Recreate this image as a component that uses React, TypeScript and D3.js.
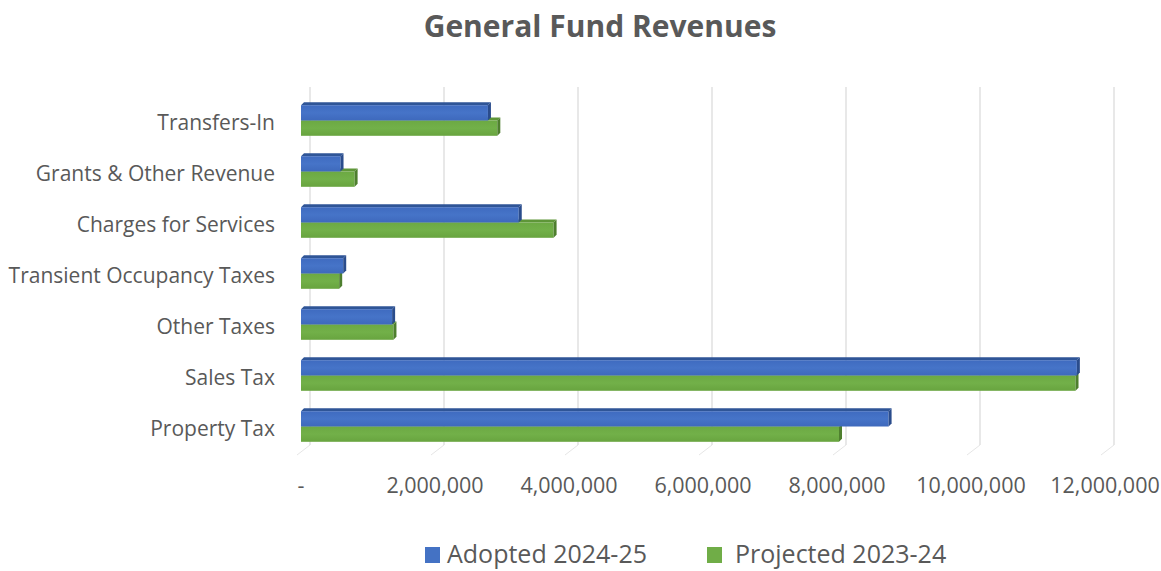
import React from "react";
import * as d3 from "d3";

const categories = [
  "Transfers-In",
  "Grants & Other Revenue",
  "Charges for Services",
  "Transient Occupancy Taxes",
  "Other Taxes",
  "Sales Tax",
  "Property Tax",
];
const adopted2425 = [2790000, 590000, 3250000, 630000, 1360000, 11580000, 8770000];
const projected2324 = [2930000, 800000, 3770000, 570000, 1380000, 11560000, 8030000];
const xTicks = [0, 2000000, 4000000, 6000000, 8000000, 10000000, 12000000];
const seriesNames = ["Adopted 2024-25", "Projected 2023-24"];

const W = 1161;
const H = 571;
const FONT = "'Open Sans', 'Noto Sans', sans-serif";
const TEXT = "#595959";

export default function App() {
  const x = d3.scaleLinear().domain([0, 12000000]).range([301, 1105]);
  const y = d3.scaleBand<string>().domain(categories).range([95, 452]).paddingInner(0.4).paddingOuter(0.2);
  const depth = 9; // back wall offset
  const d = 3; // bar depth
  const fmt = (v: number) => (v === 0 ? "-" : d3.format(",")(v));
  const bw = y.bandwidth();
  const barH = bw / 2;

  const bar = (v: number, top: number, front: string, topC: string, side: string, key: string) => {
    const x0 = x(0);
    const x1 = x(v);
    return (
      <g key={key}>
        <polygon
          points={`${x0},${top} ${x0 + d},${top - d} ${x1 + d},${top - d} ${x1},${top}`}
          fill={topC}
        />
        <rect x={x0} y={top} width={x1 - x0} height={barH} fill={front} />
        <polygon
          points={`${x1},${top} ${x1 + d},${top - d} ${x1 + d},${top + barH - d} ${x1},${top + barH}`}
          fill={side}
        />
      </g>
    );
  };

  return (
    <svg width={W} height={H} style={{ position: "absolute", left: 0, top: 0, background: "#fff" }}>
      <defs>
        <linearGradient id="gb" x1="0" y1="0" x2="0" y2="1">
          <stop offset="0" stopColor="#3F6BC0" />
          <stop offset="0.5" stopColor="#4674C8" />
          <stop offset="1" stopColor="#3E69BC" />
        </linearGradient>
        <linearGradient id="gg" x1="0" y1="0" x2="0" y2="1">
          <stop offset="0" stopColor="#6CA943" />
          <stop offset="0.5" stopColor="#72B049" />
          <stop offset="1" stopColor="#68A43F" />
        </linearGradient>
      </defs>
      <text x={600} y={37} textAnchor="middle" fontFamily={FONT} fontWeight="bold" fontSize={30} fill={TEXT}>
        General Fund Revenues
      </text>
      {xTicks.map((t) => (
        <g key={t}>
          <line x1={x(t) + depth} x2={x(t) + depth} y1={87} y2={445} stroke="#d9d9d9" strokeWidth={1.2} />
          <line x1={x(t) + depth} x2={x(t) - 4} y1={445} y2={455} stroke="#e6e6e6" strokeWidth={1} />
        </g>
      ))}
      {categories.map((c, i) => {
        const top = y(c)!;
        return (
          <g key={c}>
            {bar(projected2324[i], top + barH, "url(#gg)", "#5E9638", "#4E7F2E", "g" + i)}
            {bar(adopted2425[i], top, "url(#gb)", "#2F5597", "#2A4C8C", "b" + i)}
            <text
              x={275}
              y={top + bw / 2 + 9}
              textAnchor="end"
              fontFamily={FONT}
              fontSize={21}
              fill={TEXT}
            >
              {c}
            </text>
          </g>
        );
      })}
      {xTicks.map((t) => (
        <text key={"l" + t} x={x(t)} y={493} textAnchor="middle" fontFamily={FONT} fontSize={21.5} fill={TEXT}>
          {fmt(t)}
        </text>
      ))}
      <rect x={425} y={547} width={15} height={16} fill="#4472C4" />
      <text x={447} y={563} fontFamily={FONT} fontSize={25} fill={TEXT}>
        {seriesNames[0]}
      </text>
      <rect x={707} y={547} width={15} height={16} fill="#70AD47" />
      <text x={735} y={563} fontFamily={FONT} fontSize={25} fill={TEXT}>
        {seriesNames[1]}
      </text>
    </svg>
  );
}
